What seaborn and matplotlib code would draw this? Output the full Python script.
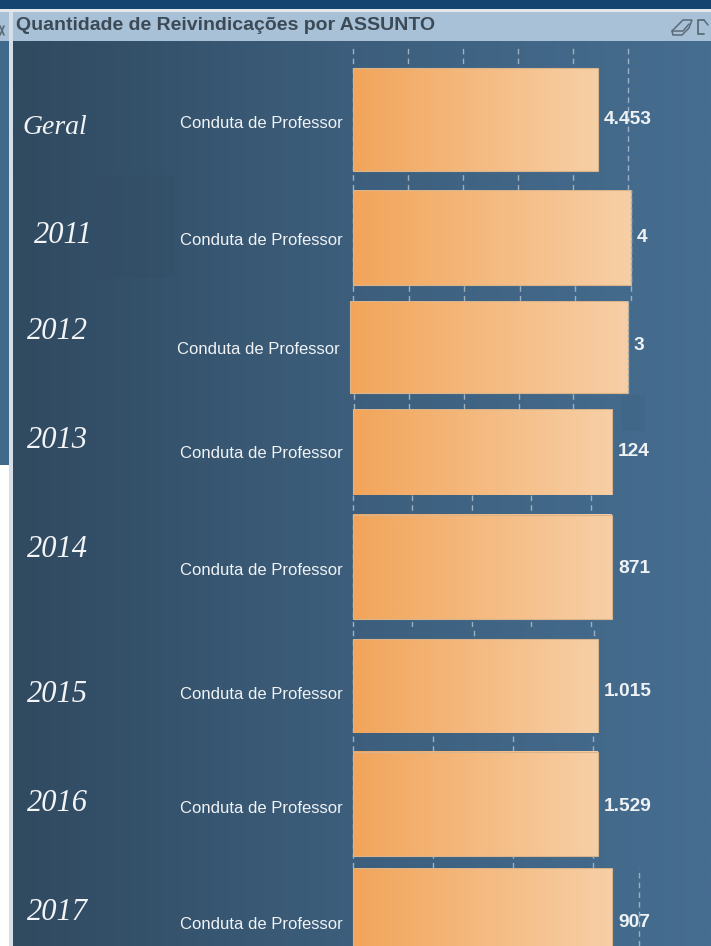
import numpy as np
import pandas as pd
import matplotlib
matplotlib.use("Agg")
import matplotlib.pyplot as plt
from matplotlib.colors import LinearSegmentedColormap
from matplotlib.patches import Polygon, Rectangle
import seaborn as sns

# ---- data
panels = ["Geral", "2011", "2012", "2013", "2014", "2015", "2016", "2017"]
assunto = "Conduta de Professor"
values = [4453, 4, 3, 124, 871, 1015, 1529, 907]
tick_values = [
    [0, 1000, 2000, 3000, 4000, 5000],
    [0, 0.8, 1.6, 2.4, 3.2, 4.0],
    [0.04, 0.64, 1.23, 1.82, 2.41],
    [],
    [0, 200, 400, 600, 800],
    [0, 500, 1000],
    [0, 500, 1000, 1500],
    [1000],
]
title = "Quantidade de Reivindicações por ASSUNTO"

# ---- layout (pixels of the 711x946 picture)
W, H = 711, 946
ax_left, ax_right = 340, 670
panel_top = [47, 190, 301, 409, 495, 627, 733, 868]
panel_bot = [190, 301, 409, 495, 627, 733, 868, 946]
bar_top = [68, 190, 301, 409, 515, 639, 752, 868]
bar_bot = [171, 285, 393, 495, 619, 733, 856, 975]
bar_x0 = [353, 353, 350, 353, 353, 353, 353, 353]
bar_x1 = [598, 631, 628, 612, 612, 598, 598, 612]
edge_dotted = [False, True, True, False, False, False, False, False]
year_x = [55, 63, 57, 57, 57, 57, 57, 57]
year_y = [127, 235, 331, 440, 549, 694, 803, 912]
year_size = [20, 22, 22, 22, 22, 22, 22, 22]
cat_y = [123, 240, 349, 453, 570, 694, 808, 924]
val_y = [120, 238, 346, 451, 568, 692, 806, 922]

sns.set_theme(style="white")
plt.rcParams["font.family"] = ["Liberation Sans", "DejaVu Sans"]

fig = plt.figure(figsize=(W / 100, H / 100), dpi=100, facecolor="white")

# ---- background and frame, in pixel coordinates
bg = fig.add_axes([0, 0, 1, 1])
bg.set_xlim(0, W)
bg.set_ylim(H, 0)
bg.axis("off")
panel_cmap = LinearSegmentedColormap.from_list("p", ["#304A60", "#3D5F7D", "#466E91"])
bg.imshow(np.linspace(0, 1, 256)[None, :], cmap=panel_cmap, aspect="auto",
          extent=(13, W, H, 41), zorder=1)
bg.set_xlim(0, W)
bg.set_ylim(H, 0)
bg.add_patch(Rectangle((0, 0), W, 9, fc="#14446F", ec="none", zorder=2))
bg.add_patch(Rectangle((0, 9), W, 3, fc="#E4E7E9", ec="none", zorder=2))
bg.add_patch(Rectangle((12, 12), W - 12, 29, fc="#A9C1D7", ec="none", zorder=2))
bg.add_patch(Rectangle((0, 12), 9, 29, fc="#A9C1D7", ec="none", zorder=2))
bg.add_patch(Rectangle((0, 41), 9, 424, fc="#40698C", ec="none", zorder=2))
bg.add_patch(Rectangle((9, 12), 4, H, fc="#D6DFE7", ec="none", zorder=2))
bg.add_patch(Rectangle((97, 175), 78, 103, fc="#2E485C", ec="none", alpha=0.15, zorder=2))
bg.add_patch(Rectangle((622, 395), 23, 36, fc="#3B5F7F", ec="none", alpha=0.25, zorder=2))
# close mark cut by the left edge, eraser and page icons of the title bar
icon = "#5B6B78"
bg.plot([0, 4], [26, 35], color=icon, lw=1.2, zorder=3)
bg.plot([0, 4], [35, 26], color=icon, lw=1.2, zorder=3)
bg.add_patch(Polygon([(672, 31), (683, 20), (692, 20), (689, 28), (682, 35), (673, 35)],
                     closed=True, fc="none", ec=icon, lw=1.1, zorder=3))
bg.plot([672, 683, 689], [31, 31, 24], color=icon, lw=1.1, zorder=3)
bg.plot([704, 698, 698, 704], [20, 20, 34, 34], color=icon, lw=1.3, zorder=3)
bg.plot([704, 708], [20, 25], color=icon, lw=1.1, zorder=3)
bg.text(16, 26, title, color="#3B4A57", fontsize=14, fontweight="bold",
        va="center", ha="left", zorder=4)

bar_cmap = LinearSegmentedColormap.from_list("b", ["#F2A55A", "#F7CFA6"])

# ---- one small bar chart per period
for i, name in enumerate(panels):
    ax = fig.add_axes([ax_left / W, 1 - panel_bot[i] / H,
                       (ax_right - ax_left) / W, (panel_bot[i] - panel_top[i]) / H])
    ax.patch.set_alpha(0)
    df = pd.DataFrame({"assunto": [assunto], "valor": [values[i]]})
    sns.barplot(data=df, x="valor", y="assunto", orient="h", ax=ax, width=1,
                color="#F2A55A", saturation=1, edgecolor="#D9B48C", linewidth=0.8)
    unit = values[i] / (bar_x1[i] - bar_x0[i])
    xlim = (-(bar_x0[i] - ax_left) * unit, (ax_right - bar_x0[i]) * unit)
    h = bar_bot[i] - bar_top[i]
    ylim = (0.5 + (panel_bot[i] - bar_bot[i]) / h, -0.5 - (bar_top[i] - panel_top[i]) / h)
    patch = ax.patches[0]
    patch.set_facecolor("none")
    patch.set_zorder(3)
    ax.imshow(np.linspace(0, 1, 256)[None, :], cmap=bar_cmap, aspect="auto",
              extent=(0, values[i], 0.5, -0.5), zorder=2, clip_on=True)
    ax.set_xlim(xlim)
    ax.set_ylim(ylim)
    ax.set_xticks(tick_values[i])
    ax.set_yticks([])
    ax.set_axisbelow(True)
    ax.grid(axis="x", color="#9DB0C0", linestyle=(0, (4, 3)), linewidth=1)
    ax.grid(axis="y", visible=False)
    ax.tick_params(length=0, labelbottom=False)
    ax.set_xlabel("")
    ax.set_ylabel("")
    sns.despine(ax=ax, left=True, bottom=True)
    if edge_dotted[i]:
        ax.vlines(values[i], -0.5, 0.5, color="#9DB0C0",
                  linestyle=(0, (2, 2)), linewidth=1, zorder=5)

    label = f"{values[i]:,}".replace(",", ".")
    fig.text((bar_x1[i] + 6) / W, 1 - val_y[i] / H, label, color="#EEF2F5",
             fontsize=13.8, fontweight="bold", ha="left", va="center", zorder=10)
    bg.text(bar_x0[i] - 10, cat_y[i], assunto, color="#F0F3F5", fontsize=12,
            ha="right", va="center", zorder=5)
    bg.text(year_x[i], year_y[i], name, color="#F2F4F6", fontsize=year_size[i],
            family="Liberation Serif", style="italic", ha="center", va="center", zorder=5)

fig.savefig("out.png", dpi=100)
